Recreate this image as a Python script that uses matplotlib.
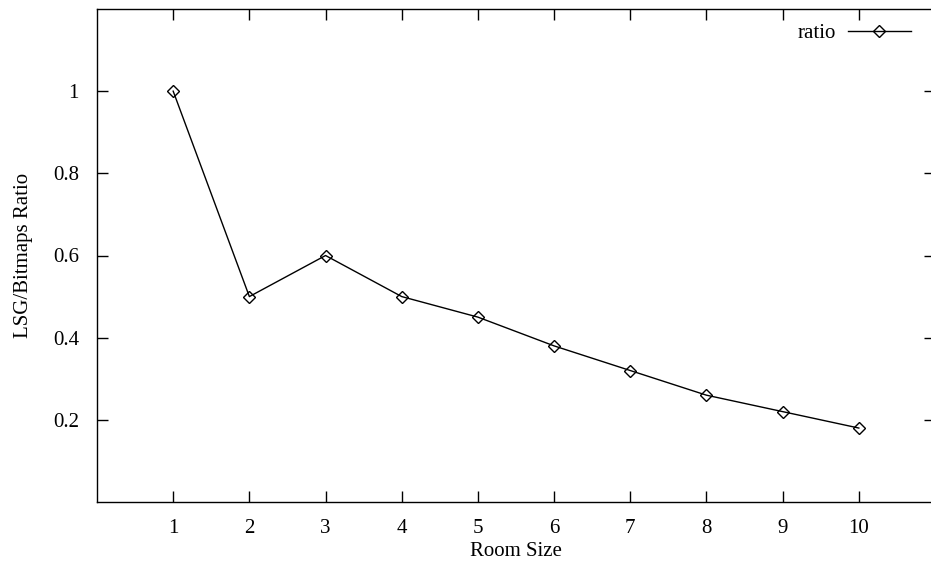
import numpy as np
import matplotlib.pyplot as plt

room_size = [1, 2, 3, 4, 5, 6, 7, 8, 9, 10]
ratio = [1.0, 0.5, 0.6, 0.5, 0.45, 0.38, 0.32, 0.26, 0.22, 0.18]

plt.rcParams['font.family'] = 'Liberation Serif'
plt.rcParams['font.size'] = 15

fig = plt.figure(figsize=(9.31, 5.71), dpi=100)
ax = fig.add_axes([97 / 931, 1 - 502 / 571, 838 / 931, 493 / 571])

ax.plot(room_size, ratio, color='black', linewidth=1, marker='D', markersize=6,
        markerfacecolor='none', markeredgecolor='black', markeredgewidth=1, label='ratio')

ax.set_xlim(0, 11)
ax.set_ylim(0, 1.2)
ax.set_xticks(room_size)
ax.set_yticks([0.2, 0.4, 0.6, 0.8, 1.0])
ax.set_yticklabels(['0.2', '0.4', '0.6', '0.8', '1'])
ax.tick_params(direction='in', length=8, width=1, top=True, right=True, pad=12)
ax.tick_params(axis='y', pad=13)
for s in ax.spines.values():
    s.set_linewidth(1)

ax.set_xlabel('Room Size', labelpad=3)
ax.set_ylabel('LSG/Bitmaps Ratio', labelpad=14)

ax.legend(loc='upper right', bbox_to_anchor=(919 / 931, 1 - 15 / 571), bbox_transform=fig.transFigure,
          frameon=False, markerfirst=False, handlelength=3.0, handletextpad=0.6, borderaxespad=0)

fig.savefig('out.png', dpi=100)
